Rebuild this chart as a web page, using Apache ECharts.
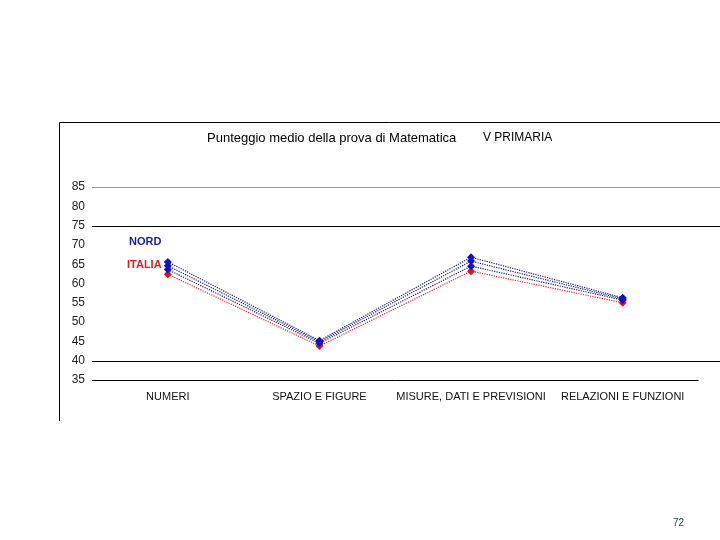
<!DOCTYPE html>
<html><head><meta charset="utf-8">
<script src="https://cdn.jsdelivr.net/npm/echarts@6/dist/echarts.min.js"></script>
<style>html,body{margin:0;padding:0;background:#fff}#c{width:720px;height:540px}</style>
</head><body><div id="c"></div>
<script>
var categories = ['NUMERI', 'SPAZIO E FIGURE', 'MISURE, DATI E PREVISIONI', 'RELAZIONI E FUNZIONI'];
var nordA = [65.6, 45.2, 66.8, 56.3];
var nordB = [64.6, 44.9, 65.8, 56.0];
var nordC = [63.6, 44.5, 64.5, 55.7];
var italia = [62.4, 43.8, 63.2, 55.0];
var yMin = 35, yMax = 85, yStep = 5;
var refLines = [75, 40];

var chart = echarts.init(document.getElementById('c'), null, {renderer: 'canvas'});
var font = 'Liberation Sans, Arial, sans-serif';
function ser(name, data, lineColor, dotColor) {
  return {
    name: name, type: 'line', data: data, symbol: 'diamond', symbolSize: 8,
    lineStyle: {type: 'dotted', width: 1.2, color: lineColor},
    itemStyle: {color: dotColor}, z: name === 'ITALIA' ? 3 : 4, animation: false
  };
}
chart.setOption({
  animation: false,
  grid: {left: 92, right: 21.5, top: 187, bottom: 160},
  xAxis: {
    type: 'category', data: categories, boundaryGap: true,
    axisLine: {show: false}, axisTick: {show: false},
    axisLabel: {interval: 0, fontFamily: font, fontSize: 11, color: '#111', margin: 11}
  },
  yAxis: {
    type: 'value', min: yMin, max: yMax, interval: yStep,
    axisLine: {show: false}, axisTick: {show: false}, splitLine: {show: false},
    axisLabel: {fontFamily: font, fontSize: 12, color: '#222', margin: 7, align: 'right'}
  },
  series: [
    ser('NORD-A', nordA, '#1a1a6e', '#1010d8'),
    ser('NORD-B', nordB, '#1a1a6e', '#1010d8'),
    ser('NORD-C', nordC, '#1a1a6e', '#1010d8'),
    ser('ITALIA', italia, '#e02020', '#e01010')
  ]
});

var x0 = chart.convertToPixel({gridIndex: 0}, [0, yMin])[0];
var gridLeft = 92;
var xEnd = chart.convertToPixel({gridIndex: 0}, [categories.length - 1, yMin])[0];
var plotRight = xEnd + (xEnd - x0) / (categories.length - 1) / 2;
function yp(v) { return Math.round(chart.convertToPixel({gridIndex: 0}, [0, v])[1]) + 0.5; }
var g = [];
g.push({type: 'line', shape: {x1: 59.5, y1: 122.5, x2: 720, y2: 122.5}, style: {stroke: '#000', lineWidth: 1}});
g.push({type: 'line', shape: {x1: 59.5, y1: 122.5, x2: 59.5, y2: 421}, style: {stroke: '#000', lineWidth: 1}});
g.push({type: 'line', shape: {x1: gridLeft, y1: yp(yMax), x2: 720, y2: yp(yMax)}, style: {stroke: '#999', lineWidth: 1}});
refLines.forEach(function (v) {
  g.push({type: 'line', shape: {x1: gridLeft, y1: yp(v), x2: 720, y2: yp(v)}, style: {stroke: '#000', lineWidth: 1}});
});
g.push({type: 'line', shape: {x1: gridLeft, y1: yp(yMin), x2: plotRight, y2: yp(yMin)}, style: {stroke: '#000', lineWidth: 1}});
g.push({type: 'text', left: 207, top: 132, style: {text: 'Punteggio medio della prova di Matematica', font: '13px ' + font, fill: '#000'}});
g.push({type: 'text', left: 483, top: 132, style: {text: 'V PRIMARIA', font: '12px ' + font, fill: '#000'}});
g.push({type: 'text', left: 129, top: 236, style: {text: 'NORD', font: 'bold 11px ' + font, fill: '#1a1aa8'}});
g.push({type: 'text', left: 127, top: 259, style: {text: 'ITALIA', font: 'bold 11px ' + font, fill: '#e02020'}});
g.push({type: 'text', left: 673, top: 518, style: {text: '72', font: '10px ' + font, fill: '#1f4f5f'}});
chart.setOption({graphic: g});
</script>
</body></html>
